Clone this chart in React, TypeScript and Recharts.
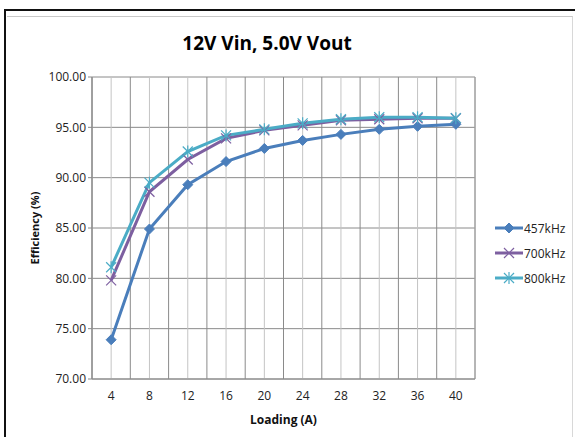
import React from "react";
import {
  LineChart,
  Line,
  XAxis,
  YAxis,
  CartesianGrid,
  ReferenceLine,
  Label,
} from "recharts";

const loads = [4, 8, 12, 16, 20, 24, 28, 32, 36, 40];
const eff457 = [73.9, 84.9, 89.3, 91.6, 92.9, 93.7, 94.3, 94.8, 95.1, 95.3];
const eff700 = [79.8, 88.6, 91.8, 93.9, 94.7, 95.2, 95.7, 95.8, 95.9, 95.9];
const eff800 = [81.1, 89.5, 92.6, 94.2, 94.8, 95.4, 95.8, 96.0, 96.0, 95.9];
const yTicks = [70, 75, 80, 85, 90, 95, 100];

const data = loads.map((load, i) => ({
  load,
  f457: eff457[i],
  f700: eff700[i],
  f800: eff800[i],
}));

// category boundaries (Excel draws major gridlines between categories)
const boundaries = [...loads.map((v) => v - 2), 42];

const BLUE = "#4a7ebb";
const PURPLE = "#7d5fa0";
const CYAN = "#4bacc6";
const FONT = "'Open Sans', 'Noto Sans', sans-serif";

const Diamond = (props: any) => {
  const { cx, cy } = props;
  if (cx == null || cy == null) return null;
  const r = 5;
  return (
    <path
      d={`M${cx},${cy - r} L${cx + r},${cy} L${cx},${cy + r} L${cx - r},${cy} Z`}
      fill={BLUE}
      stroke={BLUE}
    />
  );
};

const Cross = (props: any) => {
  const { cx, cy } = props;
  if (cx == null || cy == null) return null;
  const r = 5;
  return (
    <g stroke={PURPLE} strokeWidth={1.2}>
      <line x1={cx - r} y1={cy - r} x2={cx + r} y2={cy + r} />
      <line x1={cx - r} y1={cy + r} x2={cx + r} y2={cy - r} />
    </g>
  );
};

const Star = (props: any) => {
  const { cx, cy } = props;
  if (cx == null || cy == null) return null;
  const r = 5;
  return (
    <g stroke={CYAN} strokeWidth={1.2}>
      <line x1={cx - r} y1={cy - r} x2={cx + r} y2={cy + r} />
      <line x1={cx - r} y1={cy + r} x2={cx + r} y2={cy - r} />
      <line x1={cx} y1={cy - r - 1} x2={cx} y2={cy + r + 1} />
    </g>
  );
};

const legendItems = [
  { name: "457kHz", color: BLUE, Marker: Diamond },
  { name: "700kHz", color: PURPLE, Marker: Cross },
  { name: "800kHz", color: CYAN, Marker: Star },
];

export default function App() {
  return (
    <div
      style={{
        position: "fixed",
        left: 0,
        top: 0,
        width: 575,
        height: 437,
        background: "#fff",
        overflow: "hidden",
        fontFamily: FONT,
      }}
    >
      <div
        style={{
          position: "absolute",
          left: 4,
          top: 9,
          width: 600,
          height: 460,
          border: "2px solid #111",
          boxSizing: "border-box",
        }}
      />
      <div
        style={{
          position: "absolute",
          left: 7,
          top: 16,
          width: 566,
          height: 460,
          borderTop: "1px solid #c8c8c8",
          borderRight: "1px solid #d8d8d8",
          boxSizing: "border-box",
        }}
      />
      <div
        style={{
          position: "absolute",
          left: 0,
          width: 534,
          top: 30,
          textAlign: "center",
          fontSize: 19,
          fontWeight: 700,
          color: "#000",
        }}
      >
        12V Vin, 5.0V Vout
      </div>

      <div style={{ position: "absolute", left: 0, top: 0 }}>
        <LineChart
          width={575}
          height={437}
          data={data}
          margin={{ top: 77, right: 100, bottom: 28, left: 32 }}
        >
          <CartesianGrid
            vertical={false}
            stroke="#8a8a8a"
            strokeWidth={1}
          />
          <CartesianGrid horizontal={false} stroke="#c4c4c4" strokeWidth={1} />
          {boundaries.map((b) => (
            <ReferenceLine key={b} x={b} stroke="#8a8a8a" strokeWidth={1} />
          ))}
          <XAxis
            dataKey="load"
            type="number"
            domain={[2, 42]}
            ticks={loads}
            height={30}
            axisLine={{ stroke: "#8a8a8a" }}
            tickLine={false}
            tick={{ fontSize: 12, fill: "#222", fontFamily: FONT }}
            tickMargin={6}
          >
            <Label
              value="Loading (A)"
              position="insideBottom"
              offset={-15}
              style={{ fontSize: 12, fontWeight: 700, fill: "#111", fontFamily: FONT }}
            />
          </XAxis>
          <YAxis
            type="number"
            domain={[70, 100]}
            ticks={yTicks}
            width={60}
            axisLine={{ stroke: "#8a8a8a" }}
            tickLine={{ stroke: "#8a8a8a" }}
            tickSize={4}
            tickFormatter={(v: number) => v.toFixed(2)}
            tick={{ fontSize: 12, fill: "#222", fontFamily: FONT }}
          >
            <Label
              value="Efficiency (%)"
              angle={-90}
              position="insideLeft"
              offset={3}
              style={{
                fontSize: 11,
                fontWeight: 700,
                fill: "#111",
                fontFamily: FONT,
                textAnchor: "middle",
              }}
            />
          </YAxis>
          <Line
            dataKey="f457"
            stroke={BLUE}
            strokeWidth={3}
            dot={<Diamond />}
            activeDot={false}
            isAnimationActive={false}
          />
          <Line
            dataKey="f700"
            stroke={PURPLE}
            strokeWidth={3}
            dot={<Cross />}
            activeDot={false}
            isAnimationActive={false}
          />
          <Line
            dataKey="f800"
            stroke={CYAN}
            strokeWidth={3}
            dot={<Star />}
            activeDot={false}
            isAnimationActive={false}
          />
        </LineChart>
      </div>

      {legendItems.map((item, i) => (
        <div
          key={item.name}
          style={{
            position: "absolute",
            left: 494,
            top: 219 + i * 25,
            height: 18,
            display: "flex",
            alignItems: "center",
            fontSize: 12,
            color: "#222",
          }}
        >
          <svg width={30} height={18}>
            <line x1={1} y1={9} x2={29} y2={9} stroke={item.color} strokeWidth={3} />
            <item.Marker cx={15} cy={9} />
          </svg>
          <span style={{ marginLeft: 0 }}>{item.name}</span>
        </div>
      ))}
    </div>
  );
}
